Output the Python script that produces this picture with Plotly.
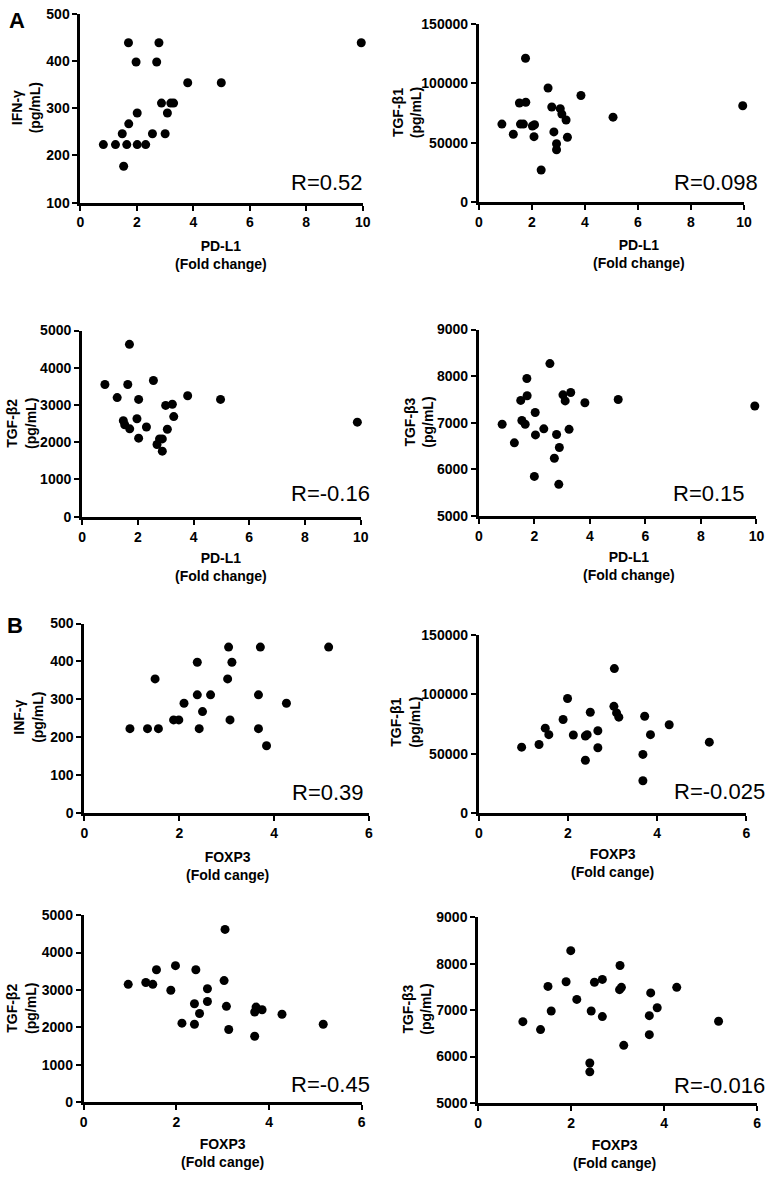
import plotly.graph_objects as go

W, H = 775, 1180

# ---- panel A: PD-L1 fold change vs cytokines ----
pdl1_ifng = [0.81, 1.24, 1.64, 2.01, 2.31, 1.48, 1.53, 1.71, 2.01, 1.70, 1.97,
             2.78, 2.70, 2.55, 2.87, 3.08, 3.00, 3.20, 3.30, 3.80, 4.99, 9.95]
ifng_a = [223, 223, 223, 223, 223, 246, 177, 267, 290, 439, 398,
          439, 398, 246, 311, 290, 246, 311, 311, 354, 354, 439]

pdl1_tgfb1 = [0.87, 1.30, 1.53, 1.57, 1.68, 1.76, 1.77, 2.02, 2.10, 2.08, 2.35, 2.61,
              2.75, 2.83, 2.93, 2.93, 3.07, 3.13, 3.29, 3.34, 3.85, 5.06, 9.95]
tgfb1_a = [65600, 57000, 83300, 65600, 65600, 121000, 84000, 64000, 65000, 55000, 27000, 96000,
           80000, 59000, 49000, 44000, 78600, 74000, 69000, 54500, 89700, 71400, 81000]

pdl1_tgfb2 = [0.82, 1.26, 1.70, 1.64, 1.48, 1.53, 1.71, 2.03, 1.97, 2.03, 2.31, 2.56,
              2.69, 2.78, 2.88, 2.88, 3.00, 3.06, 3.24, 3.29, 3.79, 4.97, 9.88]
tgfb2_a = [3550, 3200, 4630, 3550, 2580, 2470, 2360, 3150, 2630, 2110, 2410, 3660,
           1940, 2090, 2090, 1760, 2990, 2350, 3020, 2690, 3250, 3150, 2540]

pdl1_tgfb3 = [0.84, 1.28, 1.51, 1.55, 1.67, 1.73, 1.74, 2.03, 2.04, 2.00, 2.34, 2.56,
              2.72, 2.80, 2.90, 2.88, 3.03, 3.11, 3.25, 3.31, 3.82, 5.02, 9.94]
tgfb3_a = [6970, 6570, 7480, 7050, 6970, 7950, 7580, 7220, 6740, 5850, 6870, 8270,
           6240, 6750, 6470, 5680, 7600, 7470, 6860, 7650, 7430, 7500, 7360]

# ---- panel B: FOXP3 fold change vs cytokines ----
foxp3_ifng = [0.96, 1.33, 1.56, 1.49, 1.88, 1.99, 2.10, 2.38, 2.38, 2.42, 2.49,
              2.66, 3.04, 3.02, 3.11, 3.07, 3.71, 3.67, 3.67, 3.84, 4.26, 5.15]
ifng_b = [223, 223, 223, 354, 246, 246, 290, 398, 312, 223, 268,
          312, 438, 354, 398, 246, 438, 312, 223, 178, 290, 438]

foxp3_tgfb1 = [0.96, 1.35, 1.49, 1.57, 1.89, 1.99, 2.12, 2.39, 2.43, 2.39, 2.50, 2.67,
               2.67, 3.04, 3.03, 3.09, 3.14, 3.72, 3.68, 3.68, 3.85, 4.27, 5.17]
tgfb1_b = [55500, 57700, 71500, 66000, 78700, 96400, 65700, 64900, 66000, 44500, 84800, 69300,
           55000, 121500, 89800, 84300, 80700, 81500, 49400, 27300, 66000, 74300, 59700]

foxp3_tgfb2 = [0.96, 1.34, 1.49, 1.57, 1.88, 1.98, 2.12, 2.39, 2.39, 2.42, 2.50, 2.67,
               2.67, 3.05, 3.03, 3.08, 3.13, 3.69, 3.72, 3.69, 3.85, 4.28, 5.17]
tgfb2_b = [3150, 3200, 3150, 3540, 2990, 3650, 2110, 2630, 2080, 3540, 2370, 3030,
           2690, 4620, 3250, 2560, 1940, 2410, 2540, 1760, 2470, 2350, 2080]

foxp3_tgfb3 = [0.96, 1.34, 1.50, 1.57, 1.89, 1.99, 2.12, 2.43, 2.40, 2.40, 2.50, 2.67,
               2.67, 3.05, 3.04, 3.08, 3.13, 3.71, 3.68, 3.68, 3.85, 4.27, 5.17]
tgfb3_b = [6750, 6580, 7510, 6980, 7610, 8280, 7230, 6980, 5860, 5670, 7600, 7660,
           6860, 7960, 7440, 7490, 6240, 7370, 6880, 6470, 7050, 7490, 6760]

r_labels = ['R=0.52', 'R=0.098', 'R=-0.16', 'R=0.15',
            'R=0.39', 'R=-0.025', 'R=-0.45', 'R=-0.016']

FONT = 'Liberation Sans, Arial, sans-serif'

# pixel boxes (left, right, top, bottom) and label spots
panels = [
    dict(x=pdl1_ifng, y=ifng_a, xr=[0, 10], yr=[100, 500], ydt=100,
         box=(77.7, 364.3, 6, 197.3), yt='IFN-γ', ytpos=(22, 101),
         xt='PD-L1<br>(Fold change)', xtpos=(220, 250), rpos=(367, 177)),
    dict(x=pdl1_tgfb1, y=tgfb1_a, xr=[0, 10], yr=[0, 150000], ydt=50000,
         box=(482.3, 751.7, 16, 196.7), yt='TGF-β1', ytpos=(409, 106),
         xt='PD-L1<br>(Fold change)', xtpos=(645, 249), rpos=(768, 177)),
    dict(x=pdl1_tgfb2, y=tgfb2_a, xr=[0, 10], yr=[0, 5000], ydt=1000,
         box=(79.3, 362.3, 327, 515.7), yt='TGF-β2', ytpos=(18, 421),
         xt='PD-L1<br>(Fold change)', xtpos=(220, 567), rpos=(374, 492)),
    dict(x=pdl1_tgfb3, y=tgfb3_a, xr=[0, 10], yr=[5000, 9000], ydt=1000,
         box=(482.3, 764.3, 326, 515), yt='TGF-β3', ytpos=(422, 420),
         xt='PD-L1<br>(Fold change)', xtpos=(635, 566), rpos=(755, 492)),
    dict(x=foxp3_ifng, y=ifng_b, xr=[0, 6], yr=[0, 500], ydt=100,
         box=(81.7, 370.7, 624, 816.3), yt='INF-γ', ytpos=(25, 719),
         xt='FOXP3<br>(Fold cange)', xtpos=(227, 870), rpos=(368, 795)),
    dict(x=foxp3_tgfb1, y=tgfb1_b, xr=[0, 6], yr=[0, 150000], ydt=50000,
         box=(482.3, 754, 635.3, 816.3), yt='TGF-β1', ytpos=(408, 724),
         xt='FOXP3<br>(Fold cange)', xtpos=(618, 867), rpos=(775, 794)),
    dict(x=foxp3_tgfb2, y=tgfb2_b, xr=[0, 6], yr=[0, 5000], ydt=1000,
         box=(81, 363.3, 919.7, 1109), yt='TGF-β2', ytpos=(18, 1014),
         xt='FOXP3<br>(Fold cange)', xtpos=(222, 1161), rpos=(374, 1091)),
    dict(x=foxp3_tgfb3, y=tgfb3_b, xr=[0, 6], yr=[5000, 9000], ydt=1000,
         box=(481.7, 765, 921.7, 1110), yt='TGF-β3', ytpos=(420, 1015),
         xt='FOXP3<br>(Fold cange)', xtpos=(620, 1162), rpos=(775, 1092)),
]


def px(xp, yp):
    return xp / W, 1 - yp / H


fig = go.Figure()
annotations = []
axis_style = dict(showline=True, linewidth=3, linecolor='black', showgrid=False,
                  zeroline=False, ticks='outside', ticklen=5, tickwidth=2,
                  tickcolor='black', tickformat='d',
                  tickfont=dict(family=FONT, size=14, color='black', weight='bold'))

for i, p in enumerate(panels):
    n = '' if i == 0 else str(i + 1)
    l, r, t, b = p['box']
    fig.add_trace(go.Scatter(x=p['x'], y=p['y'], mode='markers', xaxis='x' + n, yaxis='y' + n,
                             marker=dict(color='black', size=9), cliponaxis=False,
                             hoverinfo='x+y'))
    fig.layout['xaxis' + n] = dict(axis_style, domain=[l / W, r / W], range=p['xr'], dtick=2,
                                   anchor='y' + n)
    fig.layout['yaxis' + n] = dict(axis_style, domain=[1 - b / H, 1 - t / H], range=p['yr'],
                                   dtick=p['ydt'], anchor='x' + n)

    ax, ay = px(*p['ytpos'])
    annotations.append(dict(x=ax, y=ay, xref='paper', yref='paper', text=p['yt'] + '<br>(pg/mL)',
                            textangle=-90, showarrow=False, xanchor='center', yanchor='middle',
                            font=dict(family=FONT, size=14, color='black', weight='bold')))
    ax, ay = px(*p['xtpos'])
    annotations.append(dict(x=ax, y=ay, xref='paper', yref='paper', text=p['xt'],
                            showarrow=False, xanchor='center', yanchor='middle',
                            font=dict(family=FONT, size=14, color='black', weight='bold')))
    ax, ay = px(*p['rpos'])
    annotations.append(dict(x=ax, y=ay, xref='paper', yref='paper', text=r_labels[i],
                            showarrow=False, xanchor='right', yanchor='middle',
                            font=dict(family=FONT, size=22, color='black')))

for letter, pos in [('A', (13, 13)), ('B', (11, 626))]:
    ax, ay = px(*pos)
    annotations.append(dict(x=ax, y=ay, xref='paper', yref='paper', text=letter,
                            showarrow=False, xanchor='center', yanchor='middle',
                            font=dict(family=FONT, size=22, color='black', weight='bold')))

fig.update_layout(width=W, height=H, margin=dict(l=0, r=0, t=0, b=0),
                  plot_bgcolor='white', paper_bgcolor='white', showlegend=False,
                  annotations=annotations)

# drop the page margin so the figure sits at the window's top-left corner
fig.write_html('out.html', config={'displayModeBar': False},
               post_script="document.body.style.margin='0';document.body.style.overflow='hidden';")
